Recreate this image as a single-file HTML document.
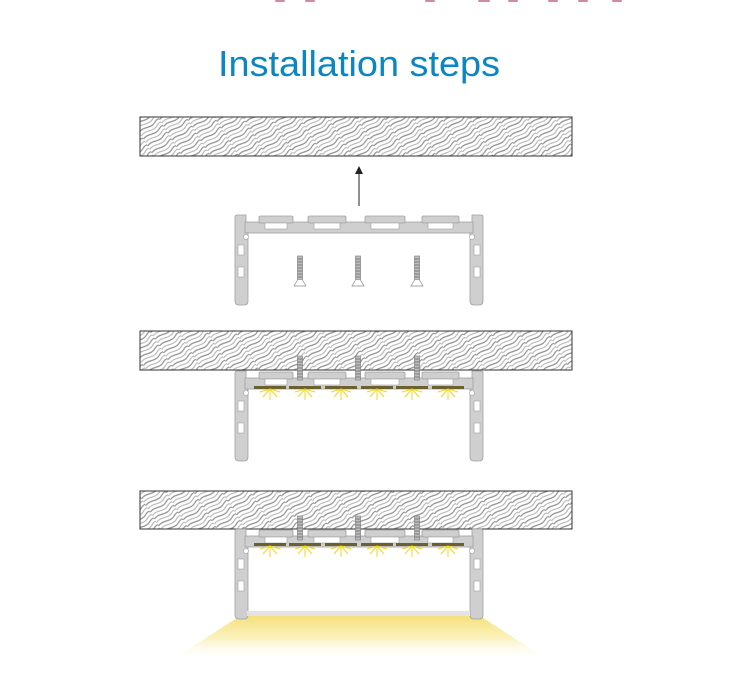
<!DOCTYPE html>
<html><head><meta charset="utf-8"><style>
html,body{margin:0;padding:0;background:#fff;}
svg{display:block}
</style></head><body>
<svg width="735" height="675" viewBox="0 0 735 675" xmlns="http://www.w3.org/2000/svg">
<defs>
<pattern id="wood" width="24" height="8" patternUnits="userSpaceOnUse" patternTransform="rotate(-32)">
<path d="M0 2 C6 -1,12 5,18 2 S24 1,24 2" fill="none" stroke="#8f8f8f" stroke-width="1.2"/>
<path d="M0 6 C6 3,12 9,18 6 S24 5,24 6" fill="none" stroke="#b0b0b0" stroke-width="1"/>
</pattern>
<linearGradient id="cone" x1="0" y1="0" x2="0" y2="1">
<stop offset="0" stop-color="#f5e07a"/>
<stop offset="0.5" stop-color="#faeeaa" stop-opacity="0.8"/>
<stop offset="1" stop-color="#fff" stop-opacity="0"/>
</linearGradient>
<g id="prof">
<path d="M0 2 Q0 0 2 0 L11 0 L11 8 L13 8 L13 86 Q13 90 9 90 L4 90 Q0 90 0 86 Z" fill="#cfcfcf" stroke="#a0a0a0" stroke-width="0.8"/>
<path d="M248 2 Q248 0 246 0 L237 0 L237 8 L235 8 L235 86 Q235 90 239 90 L244 90 Q248 90 248 86 Z" fill="#cfcfcf" stroke="#a0a0a0" stroke-width="0.8"/>
<rect x="10" y="7" width="228" height="11" fill="#cfcfcf" stroke="#a0a0a0" stroke-width="0.8"/>
<g fill="#cfcfcf" stroke="#a0a0a0" stroke-width="0.8">
<rect x="24" y="1" width="34" height="7" rx="1.5"/>
<rect x="73" y="1" width="38" height="7" rx="1.5"/>
<rect x="130" y="1" width="40" height="7" rx="1.5"/>
<rect x="187" y="1" width="37" height="7" rx="1.5"/>
</g>
<g fill="#fff" stroke="#a0a0a0" stroke-width="0.6">
<rect x="30" y="8" width="22" height="6"/>
<rect x="79" y="8" width="26" height="6"/>
<rect x="136" y="8" width="28" height="6"/>
<rect x="193" y="8" width="25" height="6"/>
<rect x="3" y="30" width="6" height="10"/>
<rect x="3" y="52" width="6" height="10"/>
<rect x="239" y="30" width="6" height="10"/>
<rect x="239" y="52" width="6" height="10"/>
<circle cx="11" cy="22" r="2.5"/>
<circle cx="237" cy="22" r="2.5"/>
</g>
</g>
<g id="screw">
<rect x="-2.5" y="0" width="5" height="24" fill="#bdbdbd" stroke="#777" stroke-width="0.6"/>
<path d="M-2.5 3 H2.5 M-2.5 6 H2.5 M-2.5 9 H2.5 M-2.5 12 H2.5 M-2.5 15 H2.5 M-2.5 18 H2.5 M-2.5 21 H2.5" stroke="#666" stroke-width="0.8"/>
</g>
<g id="screwfull">
<use href="#screw"/>
<path d="M-2.5 24 L-6 30 H6 L2.5 24" fill="#fff" stroke="#888" stroke-width="0.7"/>
</g>
<g id="led">
<rect x="-16" y="0" width="32" height="3" fill="#6b6030"/>
<g stroke="#f0d820" stroke-width="1">
<path d="M0 3 L0 14 M0 3 L-7 11 M0 3 L7 11 M0 3 L-10 6 M0 3 L10 6"/>
</g>
</g>
</defs>

<g fill="#d08aa8">
<rect x="275" y="0" width="10" height="2" rx="1"/>
<rect x="305" y="0" width="10" height="2" rx="1"/>
<rect x="425" y="0" width="10" height="2" rx="1"/>
<rect x="478" y="0" width="12" height="2" rx="1"/>
<rect x="508" y="0" width="10" height="2" rx="1"/>
<rect x="548" y="0" width="10" height="2" rx="1"/>
<rect x="578" y="0" width="10" height="2" rx="1"/>
<rect x="612" y="0" width="10" height="2" rx="1"/>
</g>

<text x="218" y="76" textLength="282" lengthAdjust="spacingAndGlyphs" font-family="'Liberation Sans',sans-serif" font-size="36" fill="#0a87c3">Installation steps</text>

<rect x="140" y="117" width="432" height="39" fill="url(#wood)" stroke="#333" stroke-width="1"/>
<rect x="140" y="331" width="432" height="39" fill="url(#wood)" stroke="#333" stroke-width="1"/>
<rect x="140" y="491" width="432" height="38" fill="url(#wood)" stroke="#333" stroke-width="1"/>

<line x1="359" y1="206" x2="359" y2="172" stroke="#222" stroke-width="1"/>
<path d="M355 174 L359 166 L363 174 Z" fill="#222"/>

<use href="#prof" x="235" y="215"/>
<use href="#screwfull" x="300" y="256"/>
<use href="#screwfull" x="358" y="256"/>
<use href="#screwfull" x="417" y="256"/>

<use href="#prof" x="235" y="371"/>
<use href="#screw" x="300" y="356"/>
<use href="#screw" x="358" y="356"/>
<use href="#screw" x="417" y="356"/>
<use href="#led" x="270" y="386"/>
<use href="#led" x="305" y="386"/>
<use href="#led" x="341" y="386"/>
<use href="#led" x="377" y="386"/>
<use href="#led" x="412" y="386"/>
<use href="#led" x="448" y="386"/>

<path d="M240 616 L480 616 L548 660 L172 660 Z" fill="url(#cone)"/>
<use href="#prof" x="235" y="529"/>
<rect x="247" y="611" width="223" height="5" fill="#e4e4e4"/>
<use href="#screw" x="300" y="516"/>
<use href="#screw" x="358" y="516"/>
<use href="#screw" x="417" y="516"/>
<use href="#led" x="270" y="543"/>
<use href="#led" x="305" y="543"/>
<use href="#led" x="341" y="543"/>
<use href="#led" x="377" y="543"/>
<use href="#led" x="412" y="543"/>
<use href="#led" x="448" y="543"/>
</svg>
</body></html>
